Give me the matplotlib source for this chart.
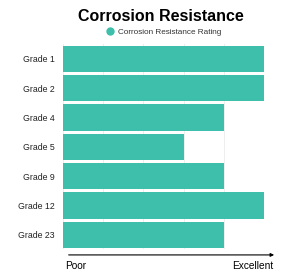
import matplotlib.pyplot as plt

plt.rcParams['font.family'] = ['Liberation Sans', 'DejaVu Sans']

# Data
grades = ["Grade 1", "Grade 2", "Grade 4", "Grade 5", "Grade 9", "Grade 12", "Grade 23"]
rating = [5, 5, 4, 3, 4, 5, 4]
serie_label = "Corrosion Resistance Rating"
cor = "#3dbfab"

fig = plt.figure(figsize=(2.84, 2.78), dpi=100)
ax = fig.add_axes([0.222, 0.103, 0.708, 0.738])

y = range(len(grades))
ax.barh(y, rating, height=0.9, color=cor, zorder=2)
ax.set_yticks(list(y))
ax.set_yticklabels(grades, fontsize=6.3, color="#222222")
ax.set_ylim(len(grades) - 0.5, -0.5)
ax.set_xlim(0, 5)
ax.set_xticks([0, 1, 2, 3, 4, 5])
ax.set_xticklabels([])
ax.tick_params(axis="both", length=0, pad=6)
ax.grid(axis="x", color="#eeeeee", linewidth=0.7, zorder=0)
for s in ax.spines.values():
    s.set_visible(False)

# Titulo e legenda
fig.text(0.565, 0.94, "Corrosion Resistance", ha="center", va="center",
         fontsize=11.5, fontweight="bold")
ax.plot([], [], "o", color=cor, markersize=5, label=serie_label)
fig.legend(loc="center", bbox_to_anchor=(0.575, 0.885), frameon=False,
           fontsize=5.9, handletextpad=0.5, handlelength=1.0, borderpad=0,
           labelcolor="#333333")

# Seta Poor -> Excellent
fig.add_artist(plt.Annotation("", xy=(0.975, 0.083), xytext=(0.232, 0.083),
                              xycoords="figure fraction",
                              arrowprops=dict(arrowstyle="-|>", color="black", lw=0.8,
                                              mutation_scale=5)))
fig.text(0.228, 0.042, "Poor", ha="left", va="center", fontsize=7.3)
fig.text(0.962, 0.042, "Excellent", ha="right", va="center", fontsize=7.3)

plt.savefig("out.png", dpi=100)
